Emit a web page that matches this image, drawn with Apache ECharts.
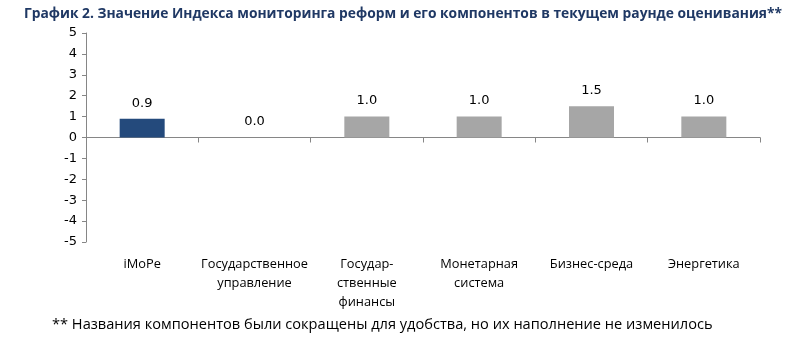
<!DOCTYPE html>
<html>
<head>
<meta charset="utf-8">
<script src="https://cdn.jsdelivr.net/npm/echarts@6/dist/echarts.min.js"></script>
<style>
  html, body { margin: 0; padding: 0; background: #fff; }
  #chart { width: 790px; height: 344px; }
</style>
</head>
<body>
<div id="chart"></div>
<script>
// Reform monitoring index and its components, current assessment round
const categories = ['iMoPe', 'Государственное\nуправление', 'Государ-\nственные\nфинансы', 'Монетарная\nсистема', 'Бизнес-среда', 'Энергетика'];
const values = [0.9, 0.0, 1.0, 1.0, 1.5, 1.0];
const barColors = ['#244A7C', '#A6A6A6', '#A6A6A6', '#A6A6A6', '#A6A6A6', '#A6A6A6'];
const yTicks = [-5, -4, -3, -2, -1, 0, 1, 2, 3, 4, 5];

const chart = echarts.init(document.getElementById('chart'), null, { renderer: 'canvas' });

chart.setOption({
  animation: false,
  backgroundColor: '#ffffff',
  title: [
    {
      text: 'График 2. Значение Индекса мониторинга реформ и его компонентов в текущем раунде оценивания**',
      left: 19, top: 2,
      textStyle: { fontFamily: 'Open Sans', fontSize: 13.8, fontWeight: 'bold', color: '#1F3864' }
    },
    {
      text: '** Названия компонентов были сокращены для удобства, но их наполнение не изменилось',
      left: 47, top: 312,
      textStyle: { fontFamily: 'Open Sans', fontSize: 14.6, fontWeight: 'normal', color: '#000000' }
    }
  ],
  grid: { left: 86, right: 30, top: 33, bottom: 102, containLabel: false },
  xAxis: {
    type: 'category',
    data: categories,
    axisLine: { onZero: true, lineStyle: { color: '#868686', width: 1 } },
    axisTick: { show: true, alignWithLabel: false, length: 5, lineStyle: { color: '#868686' } },
    axisLabel: {
      show: true, interval: 0, color: '#000', fontFamily: 'Open Sans', fontSize: 12.8,
      lineHeight: 19, margin: 13
    },
    splitLine: { show: false }
  },
  yAxis: {
    type: 'value',
    min: yTicks[0], max: yTicks[yTicks.length - 1], interval: 1,
    axisLine: { show: true, lineStyle: { color: '#868686', width: 1 } },
    axisTick: { show: true, inside: false, length: 4, lineStyle: { color: '#868686' } },
    axisLabel: { color: '#000', fontFamily: 'DejaVu Sans', fontSize: 13, margin: 9 },
    splitLine: { show: false }
  },
  series: [{
    type: 'bar',
    data: values.map(function (v, i) { return { value: v, itemStyle: { color: barColors[i] } }; }),
    barWidth: 45,
    label: {
      show: true, position: 'top', distance: 9,
      fontFamily: 'DejaVu Sans', fontSize: 13, color: '#000',
      formatter: function (p) { return p.value.toFixed(1); }
    }
  }]
});
</script>
</body>
</html>
